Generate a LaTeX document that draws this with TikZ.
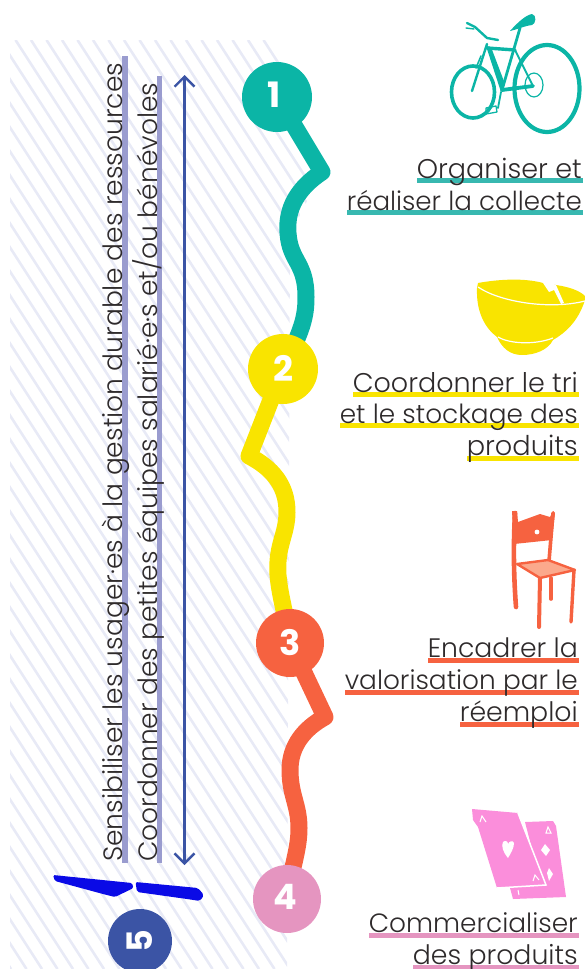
\documentclass[tikz,border=0pt]{standalone}
\usepackage{fontspec}
\usepackage{graphicx}
\setmainfont{Poppins}[UprightFont=* Light,BoldFont=* Bold]
\usetikzlibrary{arrows.meta}
\definecolor{teal1}{HTML}{0BB5A6}
\definecolor{tealbar}{HTML}{38B8B0}
\definecolor{yel}{HTML}{F9E400}
\definecolor{red1}{HTML}{F66240}
\definecolor{pink1}{HTML}{E595C0}
\definecolor{pink2}{HTML}{FB8EDB}
\definecolor{blue1}{HTML}{3B54A5}
\definecolor{purp}{HTML}{9A9CCF}
\definecolor{hatch}{HTML}{E8EAF6}
\definecolor{ink}{HTML}{2E2A2B}
\definecolor{knife}{HTML}{0A0AE6}
\definecolor{seat}{HTML}{FBA98C}
\tikzset{
  num/.style={circle,minimum size=#1,inner sep=0pt},
  numtxt/.style={text=white,font=\bfseries\fontsize{35}{35}\selectfont},
  lab/.style={anchor=base east,inner sep=0pt,text=ink},
  vlab/.style={anchor=base west,rotate=90,inner sep=0pt,text=ink},
  wave/.style={line width=17pt,line join=round,line cap=butt},
}
\newcommand{\fit}[2]{\resizebox{#1pt}{!}{\fontsize{24}{24}\selectfont #2}}
\begin{document}
\begin{tikzpicture}[x=1pt,y=-1pt]
\useasboundingbox (0,0) rectangle (585,969);
% hatch
\begin{scope}
\clip (10,40) -- (268,40) -- (282,60) -- (295,110) -- (320,175) -- (290,235) -- (287,969) -- (10,969) -- cycle;
\foreach \i in {-45,...,20}{
  \draw[hatch,line width=2.6pt] ({\i*15.5},40) -- ({\i*15.5+600},969);
}
\end{scope}
% coordinates
\coordinate (c1) at (277,97);
\coordinate (c2) at (283,369);
\coordinate (c3) at (290,643);
\coordinate (c4) at (287,899);
% waves
\draw[wave,teal1] (c1) -- (322,172) .. controls (298,188) and (286,208) .. (288,233) .. controls (290,262) and (306,262) .. (306,297) .. controls (306,318) and (302,330) .. (c2);
\draw[wave,yel] (c2) -- (249,456) .. controls (272,468) and (287,485) .. (287,512) .. controls (287,535) and (276,545) .. (278,575) .. controls (280,597) and (285,610) .. (c3);
\draw[wave,red1] (c3) -- (325,717) .. controls (305,728) and (290,745) .. (290,770) .. controls (290,795) and (299,805) .. (299,828) .. controls (299,850) and (292,865) .. (c4);
% circles
\node[num=70pt,fill=teal1] (n1) at (c1) {};
\node[numtxt] at (274,95) {1};
\node[num=70pt,fill=yel] (n2) at (c2) {};
\node[numtxt] at (283,368) {2};
\node[num=68pt,fill=red1] (n3) at (c3) {};
\node[numtxt] at (290,643) {3};
\node[num=68pt,fill=pink1] (n4) at (c4) {};
\node[numtxt] at (285,897) {4};
\node[num=64pt,fill=blue1] (n5) at (140,941) {};
\node[numtxt,rotate=90] at (n5.center) {5};
% vertical bars
\fill[purp] (122.3,56) rectangle (127.5,862.5);
\fill[purp] (157,76) rectangle (162,862.5);
\node[vlab] (v1) at (122.5,862) {\fit{799}{Sensibiliser les usager·es à la gestion durable des ressources}};
\node[vlab] (v2) at (157,862) {\fit{779}{Coordonner des petites équipes salarié·e·s et/ou bénévoles}};
% arrow
\coordinate (atop) at (184.5,75);
\coordinate (abot) at (184.5,865);
\draw[blue1,line width=2.4pt,{Straight Barb[length=10pt,width=20pt]}-{Straight Barb[length=10pt,width=20pt]}] (atop) -- (abot);
% knife
\fill[knife,rounded corners=1.5pt] (53,875) -- (132,883) -- (133.5,888) -- (115,897) -- (103,894) -- (55,881) -- cycle;
\fill[knife,rounded corners=2pt] (135.5,882) -- (198,888) -- (204,895) -- (200,901) -- (187,899) -- (137,892) -- cycle;
% underlines
\fill[tealbar] (417,178) rectangle (583,183);
\fill[tealbar] (347,210) rectangle (583,215);
\fill[yel] (353,392) rectangle (579,397);
\fill[yel] (340,423) rectangle (579,428);
\fill[yel] (467,456) rectangle (579,461);
\fill[red1] (428,658) rectangle (579,663);
\fill[red1] (345,690) rectangle (579,695);
\fill[red1] (460,722) rectangle (579,727);
\fill[pink1] (369,933) rectangle (579,938);
\fill[pink1] (413,965) rectangle (579,969);
% labels
\node[lab] (t1a) at (582,178) {\fit{165}{Organiser et}};
\node[lab] (t1b) at (582,210) {\fit{235}{réaliser la collecte}};
\node[lab] (t2a) at (578,392) {\fit{225}{Coordonner le tri}};
\node[lab] (t2b) at (578,423) {\fit{238}{et le stockage des}};
\node[lab] (t2c) at (578,455) {\fit{111}{produits}};
\node[lab] (t3a) at (578,657) {\fit{150}{Encadrer la}};
\node[lab] (t3b) at (578,689) {\fit{233}{valorisation par le}};
\node[lab] (t3c) at (578,721) {\fit{118}{réemploi}};
\node[lab] (t4a) at (578,932) {\fit{209}{Commercialiser}};
\node[lab] (t4b) at (578,964) {\fit{165}{des produits}};
% bike
\begin{scope}[teal1,line join=round,line cap=round]
\draw[line width=4.2pt] (547,88.5) ellipse[x radius=32.5,y radius=43.5];
\draw[line width=3.6pt] (473,92) ellipse[x radius=21.5,y radius=26];
\draw[line width=1.2pt] (534,85) ellipse[x radius=9,y radius=12];
\draw[line width=2.4pt] (472,91) -- (487,44);
\draw[line width=3.4pt] (487,48) -- (515,50);
\fill (486,46) -- (491,47) -- (505,84) -- (501,92) -- cycle;
\draw[line width=2.8pt] (520,28) -- (502,90);
\draw[line width=3.8pt] (502,90) -- (533,86);
\draw[line width=2pt] (515,50) -- (533,86);
\draw[line width=1.6pt] (481,56) -- (476,68);
\draw[line width=2.4pt] (467,23) -- (475,27) -- (487,38) -- (498,40);
\draw[line width=1.4pt] (466,28) -- (474,29);
\fill (510,31) .. controls (518,22) and (526,15) .. (532,14) .. controls (537,15) and (536,24) .. (532,25) .. controls (524,26) and (516,30) .. (510,31) -- cycle;
\draw[line width=1.8pt] (501,92) -- (498,108);
\draw[line width=1.3pt] (486,108) -- (496,106) -- (497,112) -- (486,114) -- cycle;
\end{scope}
% bowl
\fill[yel] (478,283) .. controls (500,279) and (525,278) .. (543,283) -- (556,285) .. controls (570,287) and (580,291) .. (585,296) -- (585,300) .. controls (578,322) and (565,333) .. (553,340) .. controls (548,350) and (535,355) .. (522,355) .. controls (510,355) and (502,348) .. (497,337) .. controls (485,328) and (476,312) .. (477,288) -- cycle;
\draw[white,line width=1.2pt] (478,287) .. controls (500,302) and (550,310) .. (585,301);
\draw[white,line width=1.2pt] (498,337) .. controls (510,344) and (535,345) .. (553,338);
\fill[white] (543,283) -- (549,292) -- (554,290) -- (561,304) -- (564,303) -- (556,285) -- (546,281) -- cycle;
% chair
\begin{scope}[red1,line join=round,line cap=round]
\fill (512,511) -- (517,511) -- (518,522) -- (540,514) -- (550,517) -- (553,511) -- (555,513) -- (552,540) -- (514,544) -- cycle;
\draw[line width=4.6pt] (515,513) .. controls (513,550) and (514,580) .. (516,607);
\draw[line width=3.6pt] (553,513) -- (549,561);
\draw[line width=4pt] (540,578) -- (539,627);
\draw[line width=3.4pt] (574,570) -- (571,622);
\draw[line width=3.6pt] (551,578) -- (551,599);
\draw[fill=seat,line width=2.4pt] (517,564) -- (548,560) -- (575,570) -- (540,578) -- cycle;
\fill[white] (537,532) circle[radius=2.4];
\end{scope}
% cards
\fill[pink2] (525,822) -- (553,821) -- (556,826) -- (566,897) -- (513,899) -- (510,888) -- (540,880) -- cycle;
\fill[pink2] (472,809) -- (518,813) -- (546,885) -- (497,888) -- (478,827) -- (473,820) -- cycle;
\draw[white,line width=1.5pt] (518,813) -- (546,885) -- (497,888);
\begin{scope}[white]
\fill (508,858) .. controls (503,852) and (501,846) .. (503,842) .. controls (505,840) and (508,841) .. (508,844) .. controls (509,841) and (513,840) .. (514,843) .. controls (514,848) and (511,853) .. (508,858) -- cycle;
\fill (545,844) -- (550,850) -- (546,856) -- (541,850) -- cycle;
\draw[line width=1pt] (480,822) -- (482,816) -- (486,822);
\draw[line width=1pt] (533,881) -- (535,875) -- (539,880);
\draw[line width=1pt] (546,833) -- (548,827) -- (551,833) -- cycle;
\fill (547,873) -- (549,868) -- (553,874) -- (549,881) -- cycle;
\draw[line width=1pt] (518,890) -- (519,895);
\end{scope}
\end{tikzpicture}
\end{document}
